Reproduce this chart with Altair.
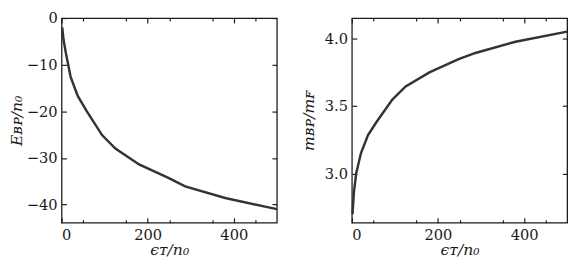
import altair as alt
import pandas as pd

# ---- data ----
eps = [1.5, 4.5, 10, 21, 37.5, 58, 94, 125, 180, 248, 287, 380, 500]
e_bp = [-2.0, -4.6, -7.5, -12.6, -16.7, -19.9, -25.1, -28.0, -31.4, -34.3, -36.1, -38.6, -41.0]
m_bp = [2.70, 2.855, 3.0, 3.15, 3.285, 3.385, 3.547, 3.644, 3.748, 3.847, 3.892, 3.975, 4.05]

x_major = [0, 200, 400]
x_minor = [50, 150, 250, 350, 450]
e_ticks = [0, -10, -20, -30, -40]
m_ticks = [3.0, 3.5, 4.0]

x_title = "ϵᴛ/n₀"
e_title = "Eʙᴘ/n₀"
m_title = "mʙᴘ/mꜰ"

FONT = "DejaVu Serif"
LINE = "#333333"
AX = "#1a1a1a"

df = pd.DataFrame({"eps": eps, "E": e_bp, "m": m_bp})


def panel(field, ydomain, yticks, ytitle, yfmt, ytp):
    xs = alt.Scale(domain=[0, 500], nice=False, zero=False)
    ys = alt.Scale(domain=ydomain, nice=False, zero=False)
    base = alt.Chart(df)
    main = base.mark_line(color=LINE, strokeWidth=2.5).encode(
        x=alt.X("eps:Q", scale=xs, axis=alt.Axis(
            orient="bottom", values=x_major, format="d", tickSize={"expr": "-5"},
            labelPadding=10, title=x_title, titlePadding=0)),
        y=alt.Y(f"{field}:Q", scale=ys, axis=alt.Axis(
            orient="left", values=yticks, format=yfmt, tickSize={"expr": "-5"},
            labelPadding=9.5, title=ytitle, titlePadding=ytp)),
    )
    opp = base.mark_line(opacity=0).encode(
        x=alt.X("eps:Q", scale=xs, axis=alt.Axis(
            orient="top", values=x_major, tickSize={"expr": "-5"}, labels=False, title=None)),
        y=alt.Y(f"{field}:Q", scale=ys, axis=alt.Axis(
            orient="right", values=yticks, tickSize={"expr": "-5"}, labels=False, title=None)),
    )
    minor_b = base.mark_line(opacity=0).encode(
        x=alt.X("eps:Q", scale=xs, axis=alt.Axis(
            orient="bottom", values=x_minor, tickSize={"expr": "-3"}, labels=False, title=None)),
        y=alt.Y(f"{field}:Q", scale=ys, axis=None),
    )
    minor_t = base.mark_line(opacity=0).encode(
        x=alt.X("eps:Q", scale=xs, axis=alt.Axis(
            orient="top", values=x_minor, tickSize={"expr": "-3"}, labels=False, title=None)),
        y=alt.Y(f"{field}:Q", scale=ys, axis=None),
    )
    return alt.layer(main, opp, minor_b, minor_t).resolve_axis(
        x="independent", y="independent"
    ).properties(width=221, height=210)


left = panel("E", [-43.9, 0], e_ticks, e_title, "d", 2)
right = panel("m", [2.637, 4.15], m_ticks, m_title, ".1f", 8)

chart = alt.hconcat(left, right, spacing=17).properties(
    padding={"left": 0, "top": -1, "right": 0, "bottom": -1}
).configure_view(
    stroke=AX, strokeWidth=1.3
).configure_axis(
    grid=False, domain=False,
    labelFont=FONT, labelFontSize=15, labelColor="#1a1a1a",
    titleFont=FONT, titleFontSize=16, titleFontWeight="normal",
    titleFontStyle="italic", titleColor="#1a1a1a",
    tickColor=AX, tickWidth=1.2,
)

chart.save("out.html", embed_options={"renderer": "svg", "actions": False})
